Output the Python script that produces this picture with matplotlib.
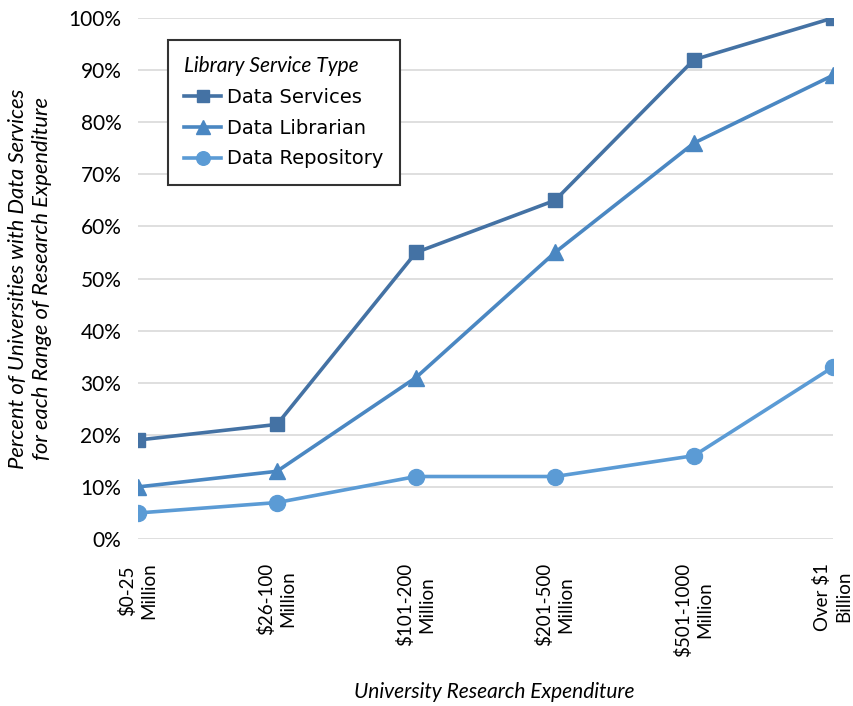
import numpy as np
import matplotlib
matplotlib.use('Agg')
import matplotlib.pyplot as plt
from matplotlib.ticker import FuncFormatter

plt.rcParams['font.family'] = ['Lato', 'DejaVu Sans']

# data
categories = ['$0-25\nMillion', '$26-100\nMillion', '$101-200\nMillion',
              '$201-500\nMillion', '$501-1000\nMillion', 'Over $1\nBillion']
data_services = [19, 22, 55, 65, 92, 100]
data_librarian = [10, 13, 31, 55, 76, 89]
data_repository = [5, 7, 12, 12, 16, 33]

c_serv = '#4472a4'
c_lib = '#4a87c2'
c_repo = '#5b9bd5'

fig = plt.figure(figsize=(8.54, 7.06), dpi=100)
ax = fig.add_axes([0.1616, 0.2365, 0.8138, 0.738])

x = np.arange(len(categories))
ax.plot(x, data_services, color=c_serv, lw=2.6, marker='s', ms=10.5, label='Data Services')
ax.plot(x, data_librarian, color=c_lib, lw=2.6, marker='^', ms=11.5, label='Data Librarian')
ax.plot(x, data_repository, color=c_repo, lw=2.6, marker='o', ms=11.5, label='Data Repository')

ax.set_xlim(0, len(categories) - 1)
ax.set_ylim(0, 100)
ax.set_yticks(np.arange(0, 101, 10))
ax.yaxis.set_major_formatter(FuncFormatter(lambda v, p: '%d%%' % v))
ax.grid(axis='y', color='#d9d9d9', lw=1.2)
ax.set_axisbelow(True)
for s in ax.spines.values():
    s.set_visible(False)
ax.tick_params(length=0, labelsize=15, colors='black')
ax.tick_params(axis='y', pad=12)

ax.set_xticks(x)
ax.set_xticklabels(categories, rotation=90, ha='center', va='top',
                   multialignment='center', linespacing=1.3)
ax.tick_params(axis='x', pad=17, labelsize=13.5)

# x label placed by hand under the long tick labels
fig.text(494 / 854, 1 - 692 / 706, 'University Research Expenditure', fontsize=15,
         style='italic', ha='center', va='center')
ax.set_ylabel('Percent of Universities with Data Services\nfor each Range of Research Expenditure',
              fontsize=15.8, style='italic', labelpad=12, linespacing=1.2)

leg = ax.legend(loc='upper left', bbox_to_anchor=(0.043, 0.958), borderaxespad=0,
                title='Library Service Type',
                prop={'family': 'DejaVu Sans', 'size': 14}, title_fontsize=15,
                fancybox=False, framealpha=1,
                edgecolor='#333333', handlelength=1.9, borderpad=0.85, labelspacing=0.6,
                handletextpad=0.3, markerscale=0.85)
leg.get_title().set_style('italic')
leg.get_title().set_family(['Lato', 'DejaVu Sans'])
leg._legend_box.align = 'left'
leg.get_frame().set_linewidth(1.5)

fig.savefig('out.png', dpi=100)
